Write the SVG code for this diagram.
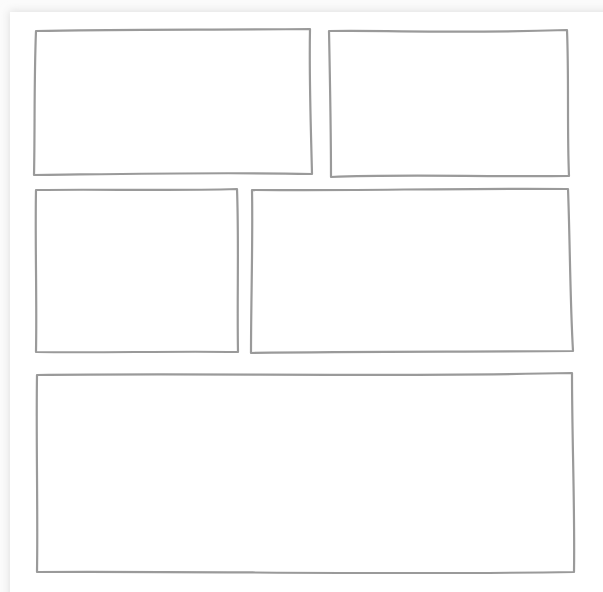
<svg xmlns="http://www.w3.org/2000/svg" width="603" height="592" viewBox="0 0 603 592">
<defs>
<style>
.panel path{fill:#ffffff;stroke:#9a9a9a;stroke-width:2.2;stroke-linecap:round;stroke-linejoin:round}
</style>
<filter id="sh" x="-5%" y="-5%" width="110%" height="110%">
<feGaussianBlur stdDeviation="4"/>
</filter>
</defs>
<rect x="0" y="0" width="603" height="592" fill="#fbfbfb"/>
<rect x="9" y="11" width="620" height="620" fill="#e0e0e0" filter="url(#sh)"/>
<rect x="10" y="12" width="600" height="600" fill="#ffffff"/>
<g id="panel1" class="panel">
<path d="M36,31 C110,29 220,30 310,29 C309,80 311,130 312,174 C220,172 120,174 34,175 C35,130 34,80 36,31 Z"/>
</g>
<g id="panel2" class="panel">
<path d="M329,31 C400,30 440,34 567,30 C569,80 567,130 569,176 C480,177 400,174 331,177 C331,130 330,80 329,31 Z"/>
</g>
<g id="panel3" class="panel">
<path d="M36,190 C100,189 170,191 237,189 C239,240 237,300 238,352 C170,351 100,353 36,352 C37,300 35,240 36,190 Z"/>
</g>
<g id="panel4" class="panel">
<path d="M252,190 C350,191 460,188 568,189 C570,240 570,300 573,351 C470,352 360,351 251,353 C251,300 253,240 252,190 Z"/>
</g>
<g id="panel5" class="panel">
<path d="M37,375 C200,373 400,377 572,373 C572,440 575,510 574,572 C400,575 200,571 37,572 C38,510 36,440 37,375 Z"/>
</g>
<g id="connectors"></g>
</svg>
